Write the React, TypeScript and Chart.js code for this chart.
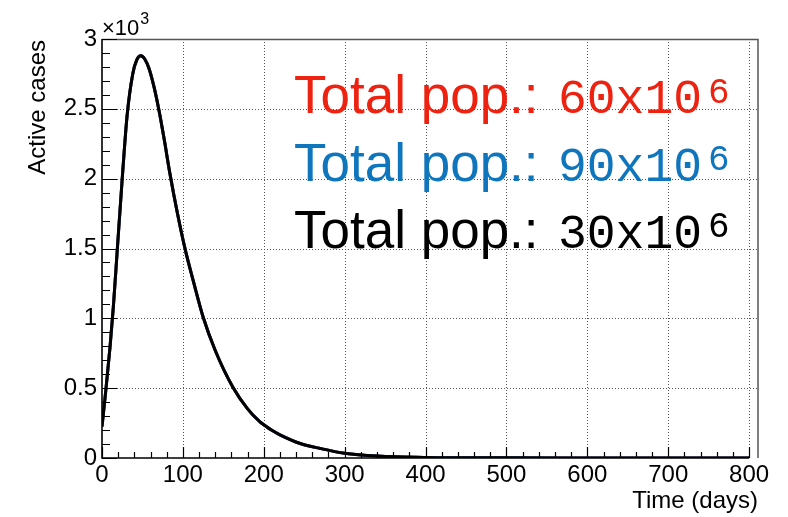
import React, { useEffect, useRef } from "react";
import { Chart, registerables } from "chart.js";

Chart.register(...registerables);

// ---- data ----
const days = [0, 5, 10, 14, 19, 25, 31, 38, 43, 48, 53, 58, 64, 70, 77, 84, 93, 103, 113, 125, 140, 162, 180, 195, 200, 210, 220, 245, 270, 300, 340, 400, 500, 600, 700, 800];
const activeCases60 = [225, 500, 800, 1080, 1500, 2000, 2450, 2750, 2850, 2880, 2855, 2790, 2664, 2502, 2278, 2035, 1760, 1490, 1265, 1010, 770, 505, 352, 260, 238, 198, 166, 104, 68, 34, 14, 4, 1, 0, 0, 0];
const activeCases90 = [225, 500, 800, 1080, 1500, 2000, 2450, 2750, 2850, 2880, 2855, 2790, 2664, 2502, 2278, 2035, 1760, 1490, 1265, 1010, 770, 505, 352, 260, 238, 198, 166, 104, 68, 34, 14, 4, 1, 0, 0, 0];
const activeCases30 = [225, 500, 800, 1080, 1500, 2000, 2450, 2750, 2850, 2880, 2855, 2790, 2664, 2502, 2278, 2035, 1760, 1490, 1265, 1010, 770, 505, 352, 260, 238, 198, 166, 104, 68, 34, 14, 4, 1, 0, 0, 0];

const xTicks = [0, 100, 200, 300, 400, 500, 600, 700, 800];
const yTicks = [0, 500, 1000, 1500, 2000, 2500, 3000];
const xMinorStep = 20;
const yMinorStep = 100;
const xMax = 811;
const yMax = 3000;

const legendPrefix = "Total pop.:";
const legendPops = ["60", "90", "30"];
const legendColors = ["#ee2211", "#0f76be", "#000000"];
const seriesColors = ["#ee2211", "#0f76be", "#000000"];

const SANS = "'Liberation Sans', Arial, Helvetica, sans-serif";
const MONO = "'Liberation Mono', 'Courier New', monospace";

const framePlugin = {
  id: "rootFrame",
  beforeDatasetsDraw(chart: any) {
    const { ctx, chartArea: a, scales } = chart;
    const x = scales.x, y = scales.y;
    ctx.save();
    ctx.strokeStyle = "#555";
    ctx.lineWidth = 1;
    ctx.setLineDash([1, 2]);
    for (const v of xTicks) {
      if (v === 0) continue;
      const px = Math.round(x.getPixelForValue(v)) + 0.5;
      ctx.beginPath();
      ctx.moveTo(px, a.top);
      ctx.lineTo(px, a.bottom);
      ctx.stroke();
    }
    for (const v of yTicks) {
      if (v === 0 || v === yMax) continue;
      const py = Math.round(y.getPixelForValue(v)) + 0.5;
      ctx.beginPath();
      ctx.moveTo(a.left, py);
      ctx.lineTo(a.right, py);
      ctx.stroke();
    }
    ctx.restore();
  },
  afterDatasetsDraw(chart: any) {
    const { ctx, chartArea: a, scales } = chart;
    const x = scales.x, y = scales.y;
    ctx.save();
    ctx.setLineDash([]);
    // top and right frame
    ctx.strokeStyle = "#555";
    ctx.lineWidth = 1.5;
    ctx.beginPath();
    ctx.moveTo(a.left, a.top + 0.5);
    ctx.lineTo(a.right, a.top + 0.5);
    ctx.lineTo(a.right, a.bottom);
    ctx.stroke();
    // axes
    const x0 = x.getPixelForValue(0);
    const x800 = x.getPixelForValue(xTicks[xTicks.length - 1]);
    const y0 = y.getPixelForValue(0);
    ctx.strokeStyle = "#000";
    ctx.lineWidth = 1.6;
    ctx.beginPath();
    ctx.moveTo(x0, a.top);
    ctx.lineTo(x0, y0);
    ctx.lineTo(x800, y0);
    ctx.stroke();
    // ticks
    ctx.lineWidth = 1.2;
    ctx.beginPath();
    for (let v = 0; v <= xTicks[xTicks.length - 1]; v += xMinorStep) {
      const px = Math.round(x.getPixelForValue(v)) + 0.5;
      const major = xTicks.includes(v);
      ctx.moveTo(px, y0);
      ctx.lineTo(px, y0 - (major ? 11 : 6));
    }
    for (let v = 0; v <= yMax; v += yMinorStep) {
      const py = Math.round(y.getPixelForValue(v)) + 0.5;
      const major = yTicks.includes(v);
      ctx.moveTo(x0, py);
      ctx.lineTo(x0 + (major ? 15 : 8), py);
    }
    ctx.stroke();

    // exponent label
    ctx.fillStyle = "#000";
    ctx.textAlign = "left";
    ctx.textBaseline = "alphabetic";
    ctx.font = `22px ${SANS}`;
    ctx.fillText("\u00d710", 102, 35);
    const w10 = ctx.measureText("\u00d710").width;
    ctx.font = `16px ${SANS}`;
    ctx.fillText("3", 102 + w10 + 1, 24);

    // axis titles
    ctx.font = `24px ${SANS}`;
    ctx.textAlign = "right";
    ctx.fillText("Time (days)", 758, 508);
    ctx.save();
    ctx.translate(45, 40);
    ctx.rotate(-Math.PI / 2);
    ctx.textAlign = "right";
    ctx.fillText("Active cases", 0, 0);
    ctx.restore();

    // legend text
    const baselines = [113, 180.5, 247.5];
    legendPops.forEach((pop, i) => {
      const b = baselines[i];
      ctx.fillStyle = legendColors[i];
      ctx.textAlign = "left";
      ctx.font = `53px ${SANS}`;
      ctx.fillText(legendPrefix, 294, b);
      ctx.font = `48px ${MONO}`;
      const main = pop + "x10";
      ctx.fillText(main, 558, b);
      const mw = ctx.measureText(main).width;
      ctx.font = `36px ${MONO}`;
      ctx.fillText("6", 558 + mw + 6, b - 10.5);
    });
    ctx.restore();
  },
};

export default function App() {
  const ref = useRef<HTMLCanvasElement | null>(null);
  useEffect(() => {
    document.body.style.margin = "0";
    const canvas = ref.current;
    if (!canvas) return;
    const mk = (vals: number[]) => days.map((d, i) => ({ x: d, y: vals[i] }));
    const common = { borderWidth: 3, pointRadius: 0, cubicInterpolationMode: "monotone", fill: false };
    const chart = new Chart(canvas, {
      type: "line",
      data: {
        datasets: [
          { label: "60", data: mk(activeCases60), borderColor: seriesColors[0], order: 2, ...common },
          { label: "90", data: mk(activeCases90), borderColor: seriesColors[1], order: 1, ...common },
          { label: "30", data: mk(activeCases30), borderColor: seriesColors[2], order: 0, ...common },
        ],
      } as any,
      options: {
        animation: false,
        responsive: false,
        devicePixelRatio: 1,
        layout: { padding: { left: 0, top: 39, right: 30, bottom: 0 } },
        plugins: { legend: { display: false }, tooltip: { enabled: false } },
        scales: {
          x: {
            type: "linear",
            min: 0,
            max: xMax,
            afterBuildTicks: (s: any) => { s.ticks = xTicks.map((v) => ({ value: v })); },
            afterFit: (s: any) => { s.height = 59; },
            grid: { display: false, drawTicks: false },
            border: { display: false },
            ticks: { padding: 3, color: "#000", font: { family: SANS, size: 24 }, maxRotation: 0, autoSkip: false, callback: (v: any) => String(v) },
          },
          y: {
            type: "linear",
            min: 0,
            max: yMax,
            afterBuildTicks: (s: any) => { s.ticks = yTicks.map((v) => ({ value: v })); },
            afterFit: (s: any) => { s.width = 102; },
            grid: { display: false, drawTicks: false },
            border: { display: false },
            ticks: { padding: 5, color: "#000", font: { family: SANS, size: 24 }, autoSkip: false, callback: (v: any) => String(v / 1000) },
          },
        },
      } as any,
      plugins: [framePlugin],
    });
    return () => chart.destroy();
  }, []);
  return (
    <div style={{ width: 788, height: 517, position: "relative", background: "#fff" }}>
      <canvas ref={ref} width={788} height={517} style={{ display: "block" }} />
    </div>
  );
}
